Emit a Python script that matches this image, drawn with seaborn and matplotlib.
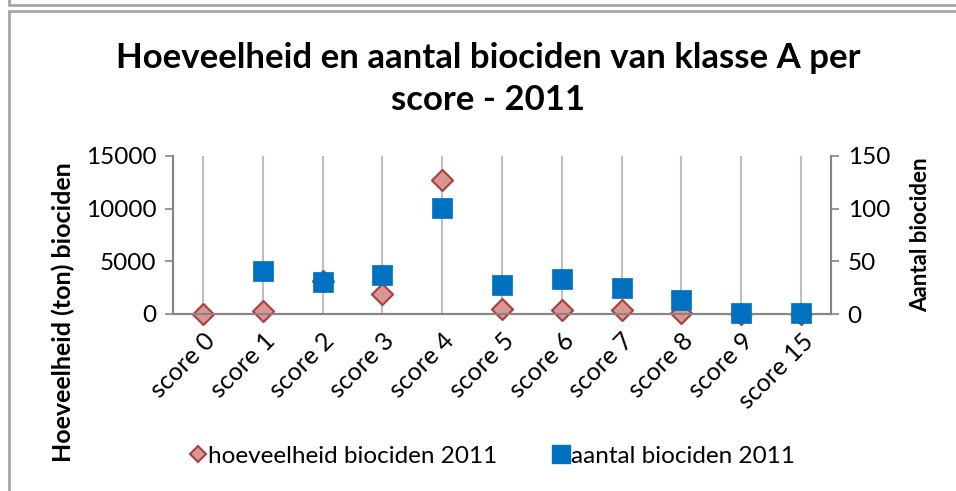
import matplotlib
matplotlib.use("Agg")
import matplotlib.pyplot as plt
from matplotlib.lines import Line2D
import seaborn as sns
import pandas as pd
import numpy as np

categories = ["score 0", "score 1", "score 2", "score 3", "score 4", "score 5",
              "score 6", "score 7", "score 8", "score 9", "score 15"]
hoeveelheid = [0, 300, 3100, 1860, 12700, 500, 350, 350, 100, 0, 0]
aantal = [np.nan, 41, 30, 37, 101, 28, 33, 25, 13, 1, 1]

df = pd.DataFrame({"pos": range(len(categories)), "score": categories,
                   "hoeveelheid": hoeveelheid, "aantal": aantal})

sns.set_style("white")
plt.rcParams["font.family"] = ["Lato", "DejaVu Sans"]
plt.rcParams["text.color"] = "black"
plt.rcParams["xtick.labelcolor"] = "black"
plt.rcParams["ytick.labelcolor"] = "black"

axis_grey = "#868686"
fig = plt.figure(figsize=(9.56, 4.91), dpi=100)
ax = fig.add_axes([173 / 956, 1 - 314 / 491, (831 - 173) / 956, (314 - 156) / 491])
ax2 = ax.twinx()

sns.scatterplot(data=df, x="pos", y="hoeveelheid", ax=ax, marker="D", s=115,
                color="#D99694", edgecolor="#A5403D", linewidth=1.5, zorder=3, clip_on=False)
sns.scatterplot(data=df, x="pos", y="aantal", ax=ax2, marker="s", s=210,
                color="#0070C0", edgecolor="#0070C0", linewidth=0.5, zorder=3, clip_on=False)

n = len(categories)
ax.set_xlim(-0.5, n - 0.5)
ax.set_ylim(0, 15000)
ax2.set_ylim(0, 150)
ax.set_yticks([0, 5000, 10000, 15000])
ax2.set_yticks([0, 50, 100, 150])

ax.set_xticks(range(n))
ax.set_xticklabels(categories, rotation=45, ha="right", rotation_mode="anchor")
ax.set_xticks(np.arange(-0.5, n, 1), minor=True)
ax.tick_params(axis="x", which="major", length=0, pad=11, labelsize=18)
ax.tick_params(axis="x", which="minor", length=6, width=1.2, color=axis_grey, direction="out")
ax.tick_params(axis="y", length=6, width=1.2, color=axis_grey, direction="out", labelsize=17.5, pad=6)
ax2.tick_params(axis="y", length=6, width=1.2, color=axis_grey, direction="out", labelsize=17.5, pad=6)

ax.grid(axis="x", which="major", color="#BFBFBF", linewidth=1.5)
ax.grid(axis="y", visible=False)
ax.set_axisbelow(True)

for a in (ax, ax2):
    a.spines["top"].set_visible(False)
    for side in ("left", "right", "bottom"):
        a.spines[side].set_color(axis_grey)
        a.spines[side].set_linewidth(1.5)
ax.set_xlabel("")
ax.set_ylabel("")
ax2.set_ylabel("")

fig.text(63 / 956, 1 - 312 / 491, "Hoeveelheid (ton) biociden", rotation=90,
         ha="center", va="center", fontsize=18, fontweight="bold")
fig.text(921 / 956, 1 - 235 / 491, "Aantal biociden", rotation=90,
         ha="center", va="center", fontsize=16, fontweight="bold")
fig.text(488 / 956, 1 - 58 / 491, "Hoeveelheid en aantal biociden van klasse A per",
         ha="center", va="center", fontsize=25, fontweight="bold")
fig.text(488 / 956, 1 - 100 / 491, "score - 2011",
         ha="center", va="center", fontsize=25, fontweight="bold")

handles = [
    Line2D([], [], marker="D", linestyle="none", markersize=8.5, markerfacecolor="#D99694",
           markeredgecolor="#A5403D", markeredgewidth=1.5, label="hoeveelheid biociden 2011"),
    Line2D([], [], marker="s", linestyle="none", markersize=13, markerfacecolor="#0070C0",
           markeredgecolor="#0070C0", label="aantal biociden 2011"),
]
fig.legend(handles=handles, loc="center", bbox_to_anchor=(0.515, 1 - 456 / 491), ncol=2,
           frameon=False, fontsize=17.5, handletextpad=0.05, columnspacing=2.3, handlelength=0.7)

# surrounding frames
frame_col = "#A6A6A6"
fig.add_artist(Line2D([9, 956], [491 - 11, 491 - 11], transform=None, color=frame_col, lw=2))
fig.add_artist(Line2D([9, 9], [0, 491 - 11], transform=None, color=frame_col, lw=2))
fig.add_artist(Line2D([9, 956], [491 - 5, 491 - 5], transform=None, color=frame_col, lw=2))
fig.add_artist(Line2D([9, 9], [491 - 5, 491], transform=None, color=frame_col, lw=2))

fig.savefig("out.png", dpi=100)
plt.close(fig)
